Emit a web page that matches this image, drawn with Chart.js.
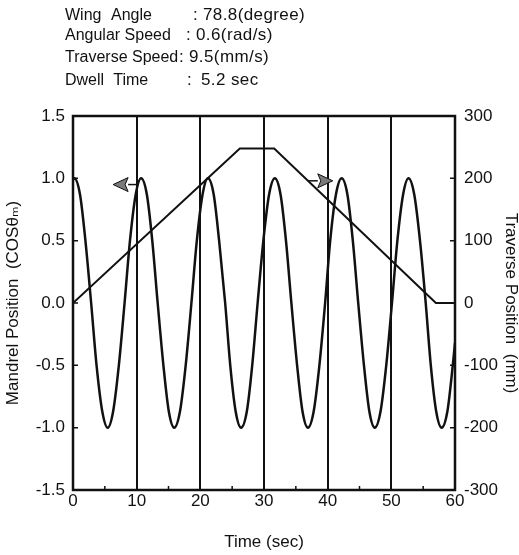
<!DOCTYPE html>
<html>
<head>
<meta charset="utf-8">
<script src="https://cdn.jsdelivr.net/npm/chart.js@4.4.1/dist/chart.umd.min.js"></script>
<style>
  html, body { margin: 0; padding: 0; background: #fff; }
  #wrap { position: relative; width: 519px; height: 555px; }
  #info { position: absolute; left: 0; top: 0; font-family: "Liberation Sans", Arial, sans-serif; color: #111; }
  #info div { position: absolute; white-space: pre; line-height: 20px; }
  #info .lbl { font-size: 16px; }
  #info .val { font-size: 17px; letter-spacing: 0.4px; }
</style>
</head>
<body>
<div id="wrap">
  <canvas id="chart" width="519" height="555"></canvas>
  <div id="info"></div>
</div>
<script>
// header text
var infoLabels = ['Wing Angle', 'Angular Speed', 'Traverse Speed', 'Dwell Time'];
var infoValues = ['78.8(degree)', '0.6(rad/s)', '9.5(mm/s)', '5.2 sec'];

// mandrel position (cos theta_m)
var mandrelTime = [0, 0.2, 1.1, 1.95, 2.85, 3.7, 4.6, 5.45, 6.3, 7.2, 8.1, 8.95, 9.85,
  10.7, 11.6, 12.45, 13.3, 14.2, 15.05, 15.9, 16.8, 17.7, 18.6, 19.45, 20.35,
  21.2, 22.1, 22.95, 23.9, 24.7, 25.55, 26.4, 27.3, 28.15, 29.0, 29.9, 30.8,
  31.7, 32.6, 33.45, 34.3, 35.2, 36.05, 36.9, 37.8, 38.7, 39.6, 40.4, 41.3,
  42.2, 43.1, 43.95, 44.8, 45.7, 46.55, 47.4, 48.3, 49.2, 50.1, 50.95, 51.85,
  52.7, 53.6, 54.5, 55.4, 56.2, 57.05, 57.9, 58.8, 59.65, 60.0];
var mandrelPos = [0.99, 1.0, 0.87, 0.5, 0.0, -0.5, -0.87, -1.0, -0.87, -0.5, 0.0, 0.5, 0.87,
  1.0, 0.87, 0.5, 0.0, -0.5, -0.87, -1.0, -0.87, -0.5, 0.0, 0.5, 0.87,
  1.0, 0.87, 0.5, 0.0, -0.5, -0.87, -1.0, -0.87, -0.5, 0.0, 0.5, 0.87,
  1.0, 0.87, 0.5, 0.0, -0.5, -0.87, -1.0, -0.87, -0.5, 0.0, 0.5, 0.87,
  1.0, 0.87, 0.5, 0.0, -0.5, -0.87, -1.0, -0.87, -0.5, 0.0, 0.5, 0.87,
  1.0, 0.87, 0.5, 0.0, -0.5, -0.87, -1.0, -0.87, -0.5, -0.32];

// traverse position (mm)
var traverseTime = [0, 26.2, 31.6, 57.0, 60];
var traversePos = [0, 248, 248, 0, 0];

// ticks
var xTicks = [0, 10, 20, 30, 40, 50, 60];
var xMinorTicks = [5, 15, 25, 35, 45, 55];
var leftTicks = [-1.5, -1.0, -0.5, 0.0, 0.5, 1.0, 1.5];
var rightTicks = [-300, -200, -100, 0, 100, 200, 300];

// arrows: [tail time, tip time, left axis value]
var arrowLeft = [10.2, 6.3, 0.95];
var arrowRight = [36.9, 40.8, 0.98];

// header
var info = document.getElementById('info');
var lineTops = [5, 25, 47, 70];
var colonX = [193, 186, 179, 187];
var valueX = [203, 196, 189, 201];
var wordGap = [6, 0, 0, 5];
infoLabels.forEach(function (lbl, i) {
    var a = document.createElement('div');
    a.className = 'lbl';
    a.style.left = '65px';
    a.style.top = lineTops[i] + 'px';
    a.style.wordSpacing = wordGap[i] + 'px';
    a.textContent = lbl;
    info.appendChild(a);
    var c = document.createElement('div');
    c.className = 'val';
    c.style.left = colonX[i] + 'px';
    c.style.top = lineTops[i] + 'px';
    c.textContent = ':';
    info.appendChild(c);
    var b = document.createElement('div');
    b.className = 'val';
    b.style.left = valueX[i] + 'px';
    b.style.top = lineTops[i] + 'px';
    b.textContent = infoValues[i];
    info.appendChild(b);
});

var ink = '#111';
var fontFamily = '"Liberation Sans", Arial, "DejaVu Sans", sans-serif';

var framePlugin = {
    id: 'frame',
    afterDatasetsDraw: function (chart) {
        var ctx = chart.ctx;
        var a = chart.chartArea;
        var sx = chart.scales.x, sy = chart.scales.y, sy2 = chart.scales.y2;
        ctx.save();
        ctx.strokeStyle = ink;
        ctx.lineWidth = 2.5;
        ctx.strokeRect(a.left, a.top, a.right - a.left, a.bottom - a.top);

        // small inner ticks
        ctx.lineWidth = 1.5;
        ctx.beginPath();
        leftTicks.forEach(function (v) {
            var y = sy.getPixelForValue(v);
            ctx.moveTo(a.left, y); ctx.lineTo(a.left + 5, y);
        });
        rightTicks.forEach(function (v) {
            var y = sy2.getPixelForValue(v);
            ctx.moveTo(a.right, y); ctx.lineTo(a.right - 5, y);
        });
        xMinorTicks.forEach(function (v) {
            var x = sx.getPixelForValue(v);
            ctx.moveTo(x, a.bottom); ctx.lineTo(x, a.bottom - 4);
        });
        ctx.stroke();

        // direction arrows
        [arrowLeft, arrowRight].forEach(function (ar) {
            var x0 = sx.getPixelForValue(ar[0]);
            var x1 = sx.getPixelForValue(ar[1]);
            var y = sy.getPixelForValue(ar[2]);
            var dir = x1 > x0 ? 1 : -1;
            var base = x1 - dir * 15;
            ctx.lineWidth = 1.5;
            ctx.beginPath();
            ctx.moveTo(x0, y); ctx.lineTo(base, y);
            ctx.stroke();
            ctx.beginPath();
            ctx.moveTo(x1, y);
            ctx.lineTo(base, y - 7);
            ctx.lineTo(base + dir * 3, y);
            ctx.lineTo(base, y + 7);
            ctx.closePath();
            ctx.fillStyle = '#7a7a7a';
            ctx.fill();
            ctx.lineWidth = 1;
            ctx.stroke();
        });
        ctx.restore();
    }
};

var ctx = document.getElementById('chart');

var chart = new Chart(ctx, {
    type: 'line',
    data: {
        datasets: [{
            label: 'Mandrel Position',
            data: mandrelTime.map(function (t, i) { return { x: t, y: mandrelPos[i] }; }),
            yAxisID: 'y',
            borderColor: ink,
            borderWidth: 2.5,
            pointRadius: 0,
            cubicInterpolationMode: 'monotone'
        }, {
            label: 'Traverse Position',
            data: traverseTime.map(function (t, i) { return { x: t, y: traversePos[i] }; }),
            yAxisID: 'y2',
            borderColor: ink,
            borderWidth: 2,
            pointRadius: 0,
            tension: 0
        }]
    },
    options: {
        responsive: false,
        animation: false,
        devicePixelRatio: 1,
        layout: { padding: { top: 116, left: 0, right: 0, bottom: 0 } },
        plugins: {
            legend: { display: false },
            tooltip: { enabled: false }
        },
        scales: {
            x: {
                type: 'linear',
                min: 0,
                max: 60,
                afterBuildTicks: function (s) { s.ticks = xTicks.map(function (v) { return { value: v }; }); },
                afterFit: function (s) { s.height = 65; },
                ticks: { color: ink, font: { family: fontFamily, size: 17 }, padding: 1, maxRotation: 0 },
                grid: {
                    drawTicks: false,
                    lineWidth: 2,
                    color: function (c) { return (c.tick && (c.tick.value === 0 || c.tick.value === 60)) ? 'rgba(0,0,0,0)' : ink; }
                },
                border: { display: false },
                title: {
                    display: true, text: 'Time (sec)', color: ink,
                    font: { family: fontFamily, size: 17, lineHeight: 1 },
                    padding: { top: 0, bottom: 4 }
                }
            },
            y: {
                position: 'left',
                min: -1.5,
                max: 1.5,
                afterBuildTicks: function (s) { s.ticks = leftTicks.map(function (v) { return { value: v }; }); },
                afterFit: function (s) { s.width = 73; },
                ticks: {
                    color: ink, font: { family: fontFamily, size: 17 }, padding: 8,
                    callback: function (v) { return Number(v).toFixed(1); }
                },
                grid: { display: false, drawTicks: false },
                border: { display: false },
                title: {
                    display: true, text: 'Mandrel Position  (COS\u03b8\u2098)', color: ink,
                    font: { family: fontFamily, size: 17, lineHeight: 1 },
                    padding: { top: 5, bottom: 0 }
                }
            },
            y2: {
                position: 'right',
                min: -300,
                max: 300,
                afterBuildTicks: function (s) { s.ticks = rightTicks.map(function (v) { return { value: v }; }); },
                afterFit: function (s) { s.width = 64; },
                ticks: { color: ink, font: { family: fontFamily, size: 17 }, padding: 9 },
                grid: { display: false, drawTicks: false },
                border: { display: false },
                title: {
                    display: true, text: 'Traverse Position  (mm)', color: ink,
                    font: { family: fontFamily, size: 17, lineHeight: 1 },
                    padding: { top: 0, bottom: 0 }
                }
            }
        }
    },
    plugins: [framePlugin]
});
</script>
</body>
</html>
